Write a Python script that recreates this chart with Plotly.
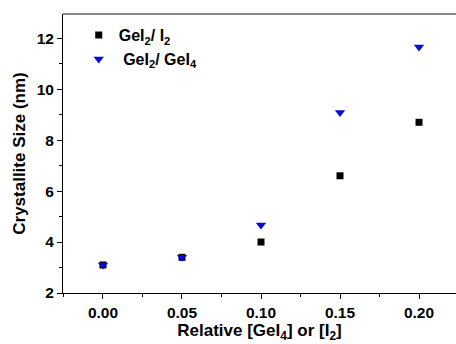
import plotly.graph_objects as go

x_vals = [0.00, 0.05, 0.10, 0.15, 0.20]
gei2_i2 = [3.1, 3.4, 4.0, 6.6, 8.7]
gei2_gei4 = [3.1, 3.4, 4.67, 9.08, 11.65]
x_ticks = [0.00, 0.05, 0.10, 0.15, 0.20]
x_tick_text = ["0.00", "0.05", "0.10", "0.15", "0.20"]
y_ticks = [2, 4, 6, 8, 10, 12]

font_family = "Liberation Sans, Arial, sans-serif"

fig = go.Figure()
fig.add_trace(go.Scatter(
    x=x_vals, y=gei2_i2, mode="markers", name="<b>GeI<sub>2</sub>/ I<sub>2</sub></b>",
    marker=dict(symbol="square", size=7, color="black", line=dict(width=0)),
))
fig.add_trace(go.Scatter(
    x=x_vals, y=gei2_gei4, mode="markers", name="<b> GeI<sub>2</sub>/ GeI<sub>4</sub></b>",
    marker=dict(symbol="triangle-down", size=9, color="#0a0ad0", line=dict(width=0)),
))

fig.update_layout(
    width=456, height=344,
    margin=dict(l=63, r=0, t=14, b=51),
    paper_bgcolor="white", plot_bgcolor="white",
    font=dict(family=font_family, color="black", size=15),
    showlegend=True,
    legend=dict(x=0.04, y=0.985, xanchor="left", yanchor="top",
                bgcolor="rgba(0,0,0,0)", font=dict(size=16, family=font_family),
                itemwidth=30, tracegroupgap=0),
    xaxis=dict(
        range=[-0.0253, 0.2234], tickvals=x_ticks, ticktext=["<b>%s</b>" % t for t in x_tick_text],
        ticks="outside", ticklen=5, tickwidth=1, tickcolor="black",
        showline=True, linecolor="black", linewidth=1, showgrid=False, zeroline=False,
        minor=dict(ticks="outside", ticklen=3, dtick=0.025, tickcolor="black", showgrid=False),
        title=dict(text="<b>Relative [GeI<sub>4</sub>] or [I<sub>2</sub>]</b>", font=dict(size=17), standoff=4),
        tickfont=dict(size=15.5),
    ),
    yaxis=dict(
        range=[2, 12.95], tickvals=y_ticks, ticktext=["<b>%d</b>" % v for v in y_ticks],
        ticks="outside", ticklen=5, tickwidth=1, tickcolor="black",
        showline=True, linecolor="black", linewidth=1, showgrid=False, zeroline=False,
        minor=dict(ticks="outside", ticklen=3, dtick=1, tickcolor="black", showgrid=False),
        title=dict(text="<b>Crystallite Size (nm)</b>", font=dict(size=17), standoff=6),
        tickfont=dict(size=15.5),
    ),
    shapes=[dict(type="line", xref="paper", yref="paper", x0=0, x1=1, y0=1, y1=1,
                 line=dict(color="#888888", width=2))],
)

fig.write_html("out.html")
